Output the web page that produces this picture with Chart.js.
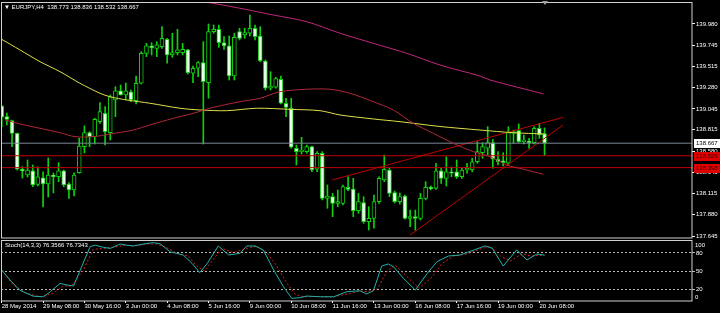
<!DOCTYPE html>
<html>
<head>
<meta charset="utf-8">
<script src="https://cdn.jsdelivr.net/npm/chart.js@4.4.1/dist/chart.umd.min.js"></script>
<style>
  html, body { margin: 0; padding: 0; background: #000; width: 720px; height: 313px; overflow: hidden; }
  #main { position: absolute; left: 0; top: 0; }
  #stoch { position: absolute; left: 0; top: 239px; }
</style>
</head>
<body>
<canvas id="main" width="720" height="239"></canvas>
<canvas id="stoch" width="720" height="74"></canvas>
<script>
// EURJPY H4, 28 May 2014 00:00 .. 20 Jun 2014 12:00 (bar index 0..105)
const opens = [
  139.077,138.959,138.915,138.776,138.380,138.317,138.364,138.214,138.287,138.218,
  138.317,138.298,138.364,138.218,138.152,138.342,138.629,138.783,138.739,138.904,
  138.996,138.783,139.143,139.245,139.198,139.234,139.135,139.327,139.657,139.738,
  139.712,139.730,139.811,139.639,139.664,139.664,139.694,139.437,139.492,139.554,
  139.333,139.895,139.922,139.774,139.738,139.407,139.895,139.859,139.878,139.933,
  139.848,139.572,139.272,139.283,139.371,139.107,139.052,138.611,138.574,138.574,
  138.629,138.380,138.556,138.060,138.078,138.005,138.005,138.181,138.163,137.924,
  138.012,137.802,137.840,138.023,138.262,138.372,138.122,138.023,138.086,137.840,
  137.858,137.840,138.060,138.181,138.170,138.364,138.280,138.353,138.353,138.298,
  138.372,138.372,138.463,138.562,138.611,138.673,138.490,138.474,138.446,138.776,
  138.805,138.684,138.691,138.673,138.831,138.773];
const highs = [
  139.080,139.000,138.923,138.779,138.408,138.482,138.427,138.408,138.353,138.504,
  138.339,138.452,138.372,138.232,138.342,138.721,138.857,138.794,138.941,139.113,
  139.069,139.198,139.289,139.308,139.330,139.253,139.407,139.675,139.767,139.774,
  139.785,139.950,139.822,139.878,139.922,139.767,139.701,139.517,139.565,139.785,
  139.980,139.969,139.969,139.840,139.848,139.878,139.933,139.933,140.079,139.969,
  139.950,139.583,139.455,139.393,139.407,139.162,139.162,138.647,138.732,138.647,
  138.636,138.574,138.574,138.207,138.115,138.152,138.207,138.298,138.280,138.115,
  138.078,137.968,138.097,138.298,138.537,138.391,138.141,138.119,138.097,137.931,
  137.931,138.115,138.243,138.196,138.446,138.391,138.518,138.405,138.482,138.391,
  138.446,138.501,138.684,138.673,138.849,138.710,138.574,138.562,138.849,138.812,
  138.879,138.757,138.721,138.849,138.886,138.836];
const lows = [
  138.845,138.868,138.629,138.372,138.284,138.295,138.188,138.196,137.964,138.075,
  138.119,138.243,138.188,138.060,138.086,138.336,138.559,138.629,138.658,138.886,
  138.647,138.702,138.959,139.198,139.143,139.124,139.099,139.319,139.620,139.639,
  139.620,139.712,139.547,139.613,139.639,139.639,139.429,139.333,139.400,138.658,
  139.162,139.878,139.723,139.701,139.363,139.363,139.804,139.822,139.848,139.804,
  139.565,139.253,139.253,139.272,139.099,138.959,138.611,138.427,138.548,138.556,
  138.353,138.353,138.042,137.950,137.858,137.968,137.986,138.144,137.858,137.895,
  137.785,137.711,137.730,138.005,138.243,138.078,138.008,137.997,137.829,137.747,
  137.711,137.821,138.042,138.152,138.159,138.225,138.196,138.298,138.280,138.280,
  138.336,138.353,138.446,138.501,138.537,138.391,138.427,138.416,138.427,138.666,
  138.673,138.658,138.611,138.658,138.721,138.532];
const closes = [
  138.955,138.930,138.776,138.380,138.361,138.372,138.207,138.298,138.218,138.317,
  138.298,138.364,138.207,138.152,138.317,138.636,138.783,138.739,138.930,139.014,
  138.794,139.179,139.245,139.198,139.245,139.143,139.327,139.657,139.738,139.719,
  139.749,139.822,139.639,139.664,139.694,139.701,139.444,139.492,139.554,139.345,
  139.895,139.922,139.774,139.738,139.407,139.834,139.822,139.884,139.933,139.840,
  139.576,139.272,139.297,139.378,139.107,139.062,138.622,138.574,138.592,138.629,
  138.372,138.556,138.060,138.086,138.005,138.023,138.188,138.159,137.924,138.023,
  137.802,137.840,138.023,138.280,138.380,138.115,138.023,138.078,137.840,137.858,
  137.840,138.060,138.181,138.166,138.364,138.280,138.353,138.336,138.298,138.372,
  138.391,138.463,138.574,138.629,138.673,138.490,138.463,138.452,138.783,138.794,
  138.684,138.702,138.673,138.831,138.757,138.667];

// moving averages, read at bar positions
const yellowMaX = [0,3.54,7.41,11.28,15.14,19.01,20.95,24.18,28.68,34.49,38.36,43.52,49.32,55.76,61.57,65.44,71.88,77.04,84.78,92.51,98.84,105];
const yellowMaY = [139.811,139.694,139.565,139.455,139.327,139.217,139.179,139.143,139.107,139.052,139.033,139.025,139.052,139.040,139.025,138.978,138.934,138.904,138.851,138.812,138.783,138.768];
const redMaX = [0.64,3.54,7.41,11.28,14.18,17.72,20.95,25.45,28.68,33.19,37.06,40.93,46.09,49.96,53.83,59.0,63.5,67.37,71.88,75.74,79.61,83.48,87.35,91.22,94.45,97.68,100.89,104.76];
const redMaY = [138.923,138.879,138.831,138.783,138.739,138.739,138.768,138.812,138.868,138.941,138.996,139.062,139.124,139.162,139.234,139.261,139.261,139.217,139.124,139.033,138.886,138.776,138.666,138.574,138.518,138.427,138.380,138.325];
const pinkMaX = [37.4,46.09,52.53,59.0,65.44,71.88,78.34,84.78,92.51,94.45,104.8];
const pinkMaY = [140.244,140.153,140.079,140.005,139.878,139.767,139.657,139.528,139.407,139.363,139.210];

// trend lines
const upperTrendX = [63.9, 108.6];
const upperTrendY = [138.262, 138.952];
const lowerTrendX = [79.0, 108.6];
const lowerTrendY = [137.656, 138.868];

// horizontal lines: bid, two red levels
const levelPrices = [138.667, 138.529, 138.398];
const levelColors = ['#7a8796', '#c00000', '#c00000'];
const levelLabelBg = ['#ffffff', '#e00000', '#e00000'];
const levelLabelFg = ['#000000', '#3a0000', '#3a0000'];

// stochastic (14,3,3)
const stochMainX = [0,1.6,3.5,6.1,8.1,9.4,11.3,12.6,13.9,15.2,17.1,18.1,19.7,21,22.9,24.2,25.5,27.4,29.3,30.6,32.6,35.1,36.8,38.3,39.7,41.9,43.9,46.1,47.4,49,50.6,52.6,54.5,56.1,57.7,59,61.6,64.2,66.8,69.3,70.6,71.9,73.5,74.8,75.8,77.7,80,82.3,84.2,86.4,88.7,91.3,93.5,94.9,97,99.6,101.6,103.5,105];
const stochMainY = [51.7,35,18,8,7,15.5,29.4,26.7,25,51.7,90.5,93,89.4,87.7,95,93,91.7,95,97.2,95.5,82,76.7,62.8,47.2,62,91.7,76.7,79.4,91.7,91.7,85,51.7,23.9,4.4,5.5,8.3,7,7,15.6,17,11.7,17.2,58.3,61.7,57,37.8,18.3,46,65.6,75,76.7,85,91.7,87.8,58.3,85,68.3,78.3,76.3566];
const stochSigX = [0,2.25,4.8,7.4,10,11.9,13.5,15.8,17.7,19.7,21.6,23.9,25.5,28.1,30,31.9,33.9,36.1,37.7,39.2,41,42.6,44.8,47.4,49.3,51.3,53.2,55.1,56.8,58.4,61,64.2,67.4,69.3,70.6,72.6,74.5,76.1,78.4,80.7,83,85.2,87.4,90,92.3,94.5,96.5,98.4,100.6,102.6,105];
const stochSigY = [51,26.7,12.8,7,12.8,25.5,25,51.7,86,87.8,89.4,93,91.7,95,95,88.9,79.4,75,58.3,50,70,87.8,80.6,87.8,91.7,80.6,58.3,30.6,11,7,7.5,7,12.8,16.7,15.6,19.4,48.9,60,40.6,21.1,37.8,62.8,75,78.3,85.6,91.7,75,66.7,78.3,75,76.7343];
const stochLevels = [20, 50, 80];

// axes
const priceTicks = [139.980,139.745,139.515,139.280,139.045,138.815,138.580,138.345,138.115,137.880,137.645];
const timeTickBars = [0,8,16,24,32,40,48,56,64,72,80,88,96,104];
const timeLabels = ['28 May 2014','29 May 08:00','30 May 16:00','3 Jun 00:00','4 Jun 08:00','5 Jun 16:00','9 Jun 00:00',
  '10 Jun 08:00','11 Jun 16:00','13 Jun 00:00','16 Jun 08:00','17 Jun 16:00','19 Jun 00:00','20 Jun 08:00'];

const X_MIN = -0.135, X_MAX = 133.52;
const Y_MIN = 137.623, Y_MAX = 140.211;

const FONT = { family: '"Liberation Sans", Arial, sans-serif', size: 6 };
const FONT_CSS = '6px "Liberation Sans", Arial, "DejaVu Sans", sans-serif';
const CANDLE = '#10d010';
const BEAR_FILL = '#e6ffe6';
const FRAME = '#d0d0d0';

const pts = (xs, ys) => xs.map((x, i) => ({ x: x, y: ys[i] }));
const lineDs = (data, color, extra) => Object.assign({
  type: 'line', data: data, borderColor: color, borderWidth: 1, pointRadius: 0, fill: false, order: 0
}, extra || {});

const frame = {
  id: 'frame',
  afterDraw(chart) {
    const { ctx, chartArea: a } = chart;
    ctx.save();
    ctx.strokeStyle = FRAME;
    ctx.lineWidth = 1;
    ctx.strokeRect(Math.floor(a.left) + 0.5, Math.floor(a.top) - 0.5, Math.round(a.right - a.left) - 0.5, Math.round(a.bottom - a.top) + 0.5);
    ctx.restore();
  }
};

const mainExtras = {
  id: 'mainExtras',
  afterDraw(chart) {
    const { ctx } = chart;
    const y = chart.scales.y;
    ctx.save();
    ctx.font = FONT_CSS;
    ctx.textBaseline = 'middle';
    levelPrices.forEach((p, i) => {
      const py = Math.round(y.getPixelForValue(p));
      ctx.fillStyle = levelLabelBg[i];
      ctx.fillRect(694, py - 4, 26, 9);
      ctx.fillStyle = levelLabelFg[i];
      ctx.fillText(p.toFixed(3), 696, py + 0.5);
    });
    ctx.fillStyle = '#ffffff';
    ctx.fillText('\u25BC EURJPY,H4  ' + [opens[105], highs[105], lows[105], closes[105]].map(v => v.toFixed(3)).join(' '), 4, 7.5);
    // chart shift marker
    ctx.fillStyle = '#a0a0a0';
    ctx.beginPath();
    ctx.moveTo(542, 1); ctx.lineTo(548, 1); ctx.lineTo(545, 5); ctx.closePath();
    ctx.fill();
    ctx.restore();
  }
};

const stochExtras = {
  id: 'stochExtras',
  afterDraw(chart) {
    const { ctx } = chart;
    const y = chart.scales.y;
    ctx.save();
    ctx.font = FONT_CSS;
    ctx.textBaseline = 'middle';
    ctx.fillStyle = '#ffffff';
    ctx.fillText('Stoch(14,3,3) ' + stochMainY[stochMainY.length - 1].toFixed(4) + ' ' + stochSigY[stochSigY.length - 1].toFixed(4), 5, 6.5);
    ctx.fillText('100', 695, y.getPixelForValue(100) + 4);
    ctx.fillText('0', 695, y.getPixelForValue(0) - 4);
    ctx.restore();
  }
};

new Chart(document.getElementById('main'), {
  type: 'bar',
  data: {
    datasets: [
      lineDs(pts(pinkMaX, pinkMaY), '#c0287a', { tension: 0.3 }),
      lineDs(pts(redMaX, redMaY), '#b0283c', { tension: 0.3 }),
      lineDs(pts(yellowMaX, yellowMaY), '#dede4a', { tension: 0.3 }),
      ...levelPrices.map((p, i) => lineDs([{ x: X_MIN, y: p }, { x: X_MAX, y: p }], levelColors[i])),
      lineDs(pts(upperTrendX, upperTrendY), '#c00000'),
      lineDs(pts(lowerTrendX, lowerTrendY), '#c00000'),
      {
        type: 'bar', order: 1, grouped: false,
        data: closes.map((c, i) => ({ x: i, y: [opens[i], c] })),
        backgroundColor: closes.map((c, i) => c >= opens[i] ? '#000000' : BEAR_FILL),
        borderColor: CANDLE, borderWidth: 1, borderSkipped: false,
        barThickness: 4, minBarLength: 1
      },
      {
        type: 'bar', order: 2, grouped: false,
        data: lows.map((l, i) => ({ x: i, y: [l, highs[i]] })),
        backgroundColor: CANDLE, borderWidth: 0, barThickness: 1
      }
    ]
  },
  options: {
    responsive: false,
    animation: false,
    events: [],
    layout: { padding: { left: 1, top: 3, right: 0, bottom: 1 } },
    plugins: { legend: { display: false }, tooltip: { enabled: false } },
    scales: {
      x: { type: 'linear', min: X_MIN, max: X_MAX, offset: false, display: false },
      y: {
        position: 'right', min: Y_MIN, max: Y_MAX,
        afterBuildTicks: s => { s.ticks = priceTicks.map(v => ({ value: v })); },
        afterFit: s => { s.width = 28; s.paddingTop = 0; s.paddingBottom = 0; },
        ticks: { color: '#ffffff', font: FONT, padding: 1, autoSkip: false, callback: v => v.toFixed(3) },
        grid: { drawOnChartArea: false, drawTicks: true, tickLength: 3, color: '#ffffff' },
        border: { display: false }
      }
    }
  },
  plugins: [frame, mainExtras]
});

new Chart(document.getElementById('stoch'), {
  type: 'line',
  data: {
    datasets: [
      lineDs(pts(stochSigX, stochSigY), '#d02020', { borderDash: [2, 2], order: 1 }),
      lineDs(pts(stochMainX, stochMainY), '#20b2aa', { order: 0 })
    ]
  },
  options: {
    responsive: false,
    animation: false,
    events: [],
    layout: { padding: { left: 1, top: 2, right: 0, bottom: 0 } },
    plugins: { legend: { display: false }, tooltip: { enabled: false } },
    scales: {
      x: {
        type: 'linear', min: X_MIN, max: X_MAX, position: 'bottom',
        afterBuildTicks: s => { s.ticks = timeTickBars.map(v => ({ value: v })); },
        afterFit: s => { s.height = 12; s.paddingLeft = 0; s.paddingRight = 0; },
        ticks: { color: '#ffffff', font: FONT, padding: 0, align: 'start', maxRotation: 0, autoSkip: false,
                 callback: (v, i) => timeLabels[i] },
        grid: { drawOnChartArea: false, drawTicks: true, tickLength: 2, color: '#ffffff' },
        border: { display: false }
      },
      y: {
        position: 'right', min: 0, max: 100,
        afterBuildTicks: s => { s.ticks = stochLevels.map(v => ({ value: v })); },
        afterFit: s => { s.width = 28; s.paddingTop = 0; s.paddingBottom = 0; },
        ticks: { color: '#ffffff', font: FONT, padding: 1, autoSkip: false },
        grid: { color: '#b8b8b8', drawTicks: true, tickLength: 3 },
        border: { display: false, dash: [2, 2] }
      }
    }
  },
  plugins: [frame, stochExtras]
});
</script>
</body>
</html>
